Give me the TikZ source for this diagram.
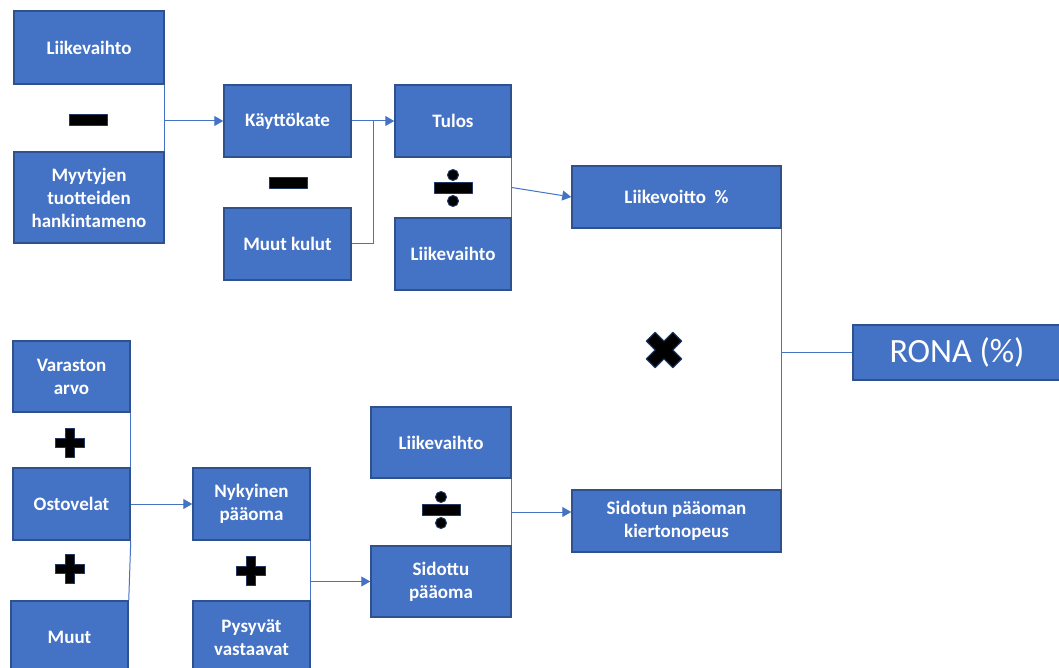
\documentclass[tikz,border=0pt]{standalone}
\usepackage{fontspec}
\setmainfont{Carlito}
\usetikzlibrary{arrows.meta,calc}
\definecolor{boxblue}{HTML}{4472C4}
\definecolor{boxedge}{HTML}{2F528F}
\definecolor{symedge}{HTML}{1F3864}
\tikzset{
  box/.style={rectangle, fill=boxblue, draw=boxedge, line width=1.5pt, text=white,
    font=\fontsize{19}{23}\selectfont\bfseries, align=center, inner sep=0pt},
  line/.style={draw=boxblue, line width=1pt},
  arrow/.style={line, -{Triangle[length=9pt,width=10pt]}},
  sym/.style={fill=black, draw=symedge, line width=1pt, line join=round},
  minussign/.pic={\filldraw[sym] (-19,-5.5) rectangle (19,5.5);},
  divsign/.pic={\filldraw[sym] (-19,-5.5) rectangle (19,5.5);
    \filldraw[sym] (0,-13) circle (5.5);
    \filldraw[sym] (0,13) circle (5.5);},
  plussign/.pic={\filldraw[sym] (-4.8,-14.5) -- (4.8,-14.5) -- (4.8,-4.8) -- (14.5,-4.8)
    -- (14.5,4.8) -- (4.8,4.8) -- (4.8,14.5) -- (-4.8,14.5) -- (-4.8,4.8)
    -- (-14.5,4.8) -- (-14.5,-4.8) -- (-4.8,-4.8) -- cycle;}
}
\begin{document}
\begin{tikzpicture}[x=1pt, y=-1pt]
	\useasboundingbox (0,0) rectangle (1059,668);
	\clip (0,0) rectangle (1059,668);
	% top part
	\node[box, minimum width=150pt, minimum height=73pt] (liike1) at (89,47.5) {Liikevaihto};
	\node[box, minimum width=150pt, minimum height=91pt] (myyty) at (89,197.5) {Myytyjen\\tuotteiden\\hankintameno};
	\node[box, minimum width=127pt, minimum height=72pt] (kate) at (287.5,121) {Käyttökate};
	\node[box, minimum width=127pt, minimum height=72pt] (muut) at (287.5,244) {Muut kulut};
	\node[box, minimum width=116pt, minimum height=72pt] (tulos) at (453,121) {Tulos};
	\node[box, minimum width=116pt, minimum height=72pt] (liike2) at (453,254) {Liikevaihto};
	\node[box, minimum width=209pt, minimum height=62pt] (voitto) at (676.5,197) {Liikevoitto~~\%};
	\node[box, minimum width=208pt, minimum height=55pt, font=\fontsize{34}{38}\selectfont] (rona) at (957,352.5) {RONA (\%)};
	% bottom part
	\node[box, minimum width=117pt, minimum height=71pt] (varasto) at (71.5,376.5) {Varaston\\arvo};
	\node[box, minimum width=117pt, minimum height=72pt] (osto) at (71.5,504) {Ostovelat};
	\node[box, minimum width=117pt, minimum height=73pt] (muutb) at (69.5,637.5) {Muut};
	\node[box, minimum width=117pt, minimum height=72pt] (nyky) at (251.5,504) {Nykyinen\\pääoma};
	\node[box, minimum width=117pt, minimum height=73pt] (pysy) at (251.5,637.5) {Pysyvät\\vastaavat};
	\node[box, minimum width=140pt, minimum height=71pt] (liike3) at (441,442.5) {Liikevaihto};
	\node[box, minimum width=140pt, minimum height=71pt] (sidottu) at (441,581.5) {Sidottu\\pääoma};
	\node[box, minimum width=209pt, minimum height=62pt] (sidotun) at (676.5,521) {Sidotun pääoman\\kiertonopeus};
	% operators
	\pic at (88,120) {minussign};
	\pic at (288,183) {minussign};
	\pic at (453,188) {divsign};
	\pic at (441,510) {divsign};
	\pic at (70,443) {plussign};
	\pic at (70,569) {plussign};
	\pic at (251,571) {plussign};
	\pic[rotate=45, scale=1.3] at (664,350) {plussign};
	% connectors
	\draw[line] (liike1.south east) -- (myyty.north east);
	\draw[arrow] (liike1.south east |- kate.west) -- (kate.west);
	\draw[arrow] (kate.east) -- (tulos.west);
	\coordinate (join1) at ($(kate.east)!0.5!(tulos.west)$);
	\draw[line] (muut.east) -| (join1);
	\draw[line] (tulos.south east) -- (liike2.north east);
	\draw[arrow] ($(tulos.south east)!0.5!(liike2.north east)$) -- (voitto.west);
	\draw[line] (voitto.south east) -- (sidotun.north east);
	\draw[line] (voitto.south east |- rona.west) -- (rona.west);
	\draw[line] (varasto.south east) -- (osto.north east);
	\draw[line] (osto.south east) -- (muutb.north east);
	\draw[arrow] (osto.east) -- (nyky.west);
	\draw[line] (nyky.south east) -- (pysy.north east);
	\draw[arrow] (nyky.south east |- sidottu.west) -- (sidottu.west);
	\draw[line] (liike3.south east) -- (sidottu.north east);
	\coordinate (join2) at ($(liike3.south east)!0.5!(sidottu.north east)$);
	\draw[arrow] (join2) -- (join2 -| sidotun.west);
\end{tikzpicture}
\end{document}
